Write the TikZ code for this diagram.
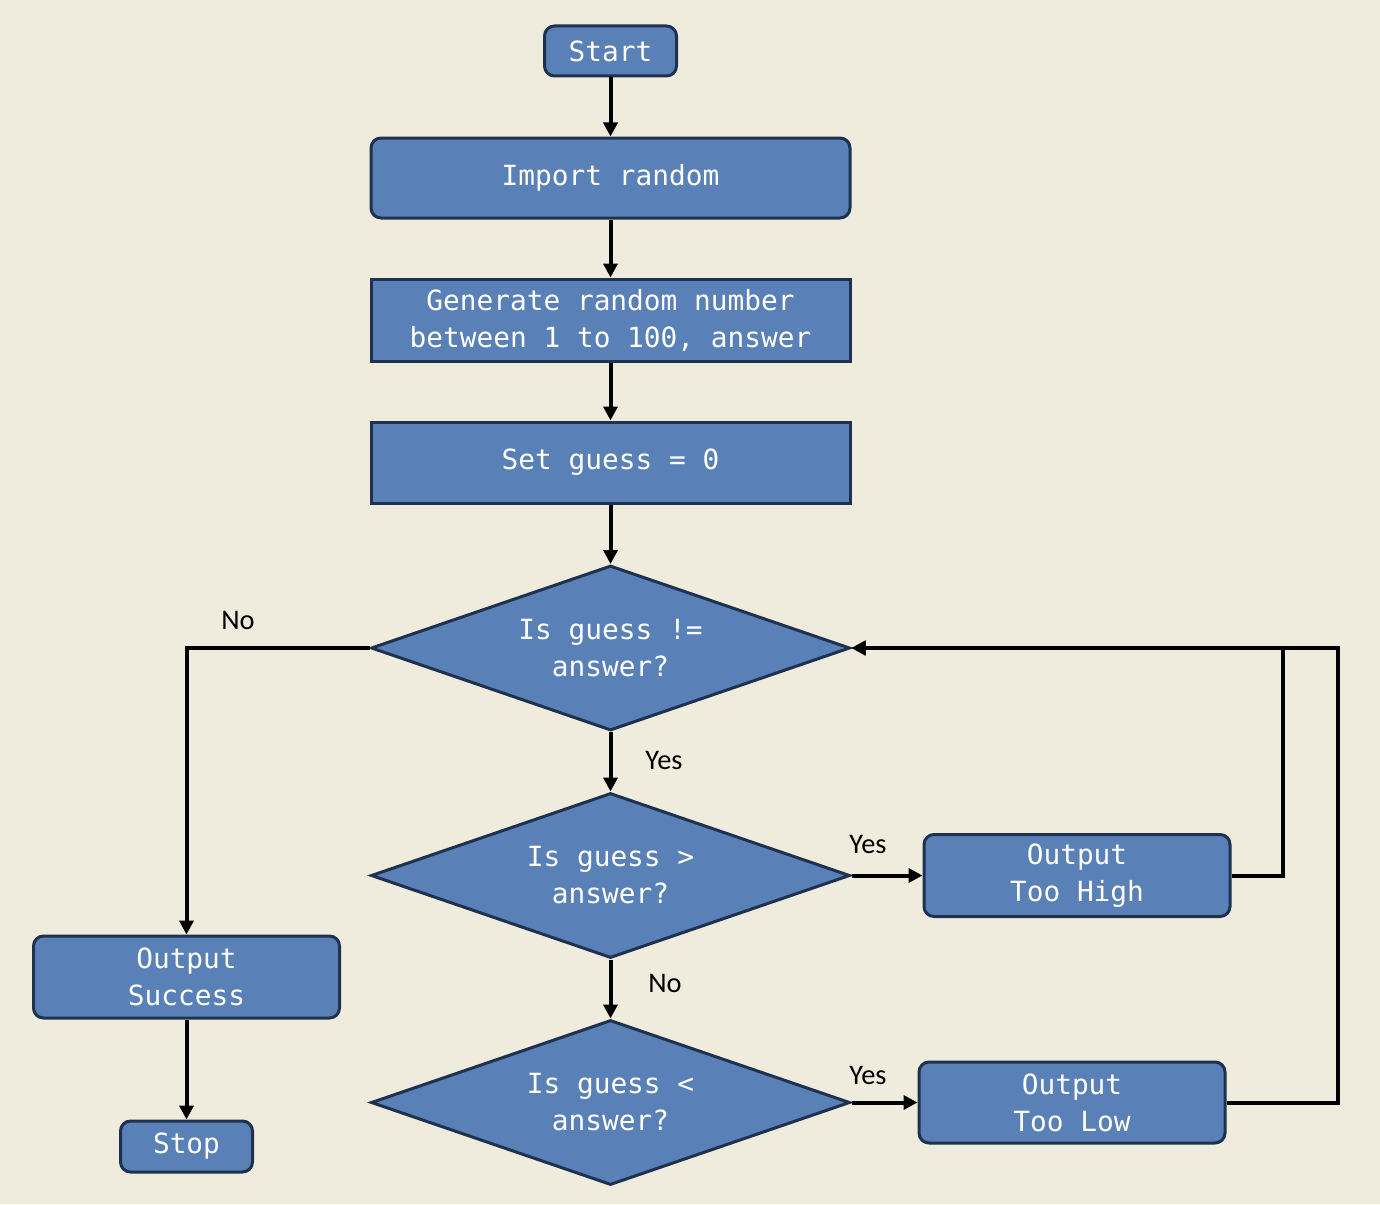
\documentclass[tikz,border=0pt]{standalone}
\usepackage{fontspec}
\newfontfamily\codefont{DejaVu Sans Mono}
\newfontfamily\lblfont{Carlito}
\usetikzlibrary{shapes.geometric,arrows.meta}
\definecolor{bg}{RGB}{240,236,221}
\definecolor{boxfill}{RGB}{89,128,183}
\definecolor{boxline}{RGB}{30,50,80}
\begin{document}
\begin{tikzpicture}[x=0.5pt,y=-0.5pt,
 base/.style={fill=boxfill,draw=boxline,line width=1.5pt,text=white,font=\codefont\fontsize{13.9}{18.5}\selectfont,align=center,inner sep=0pt},
 rbox/.style={base,rectangle,rounded corners=5pt},
 sbox/.style={base,rectangle},
 dec/.style={base,diamond,aspect=2.9,minimum width=239.5pt,minimum height=82.5pt},
 conn/.style={line width=2pt,-{Triangle[length=7pt,width=7pt]}},
 lbl/.style={font=\lblfont\fontsize{14.2}{16}\selectfont,inner sep=0pt}]
\fill[bg] (0,0) rectangle (1380,1204);
\useasboundingbox (0,0) rectangle (1380,1204);

\node[rbox,minimum width=66pt,minimum height=25pt] (start) at (610.5,51) {Start};
\node[rbox,minimum width=239.5pt,minimum height=40pt] (imp) at (610.5,178) {Import random};
\node[sbox,minimum width=239.5pt,minimum height=41pt] (gen) at (610.5,320) {Generate random number\\between 1 to 100, answer};
\node[sbox,minimum width=239.5pt,minimum height=40.5pt] (set) at (610.5,462.5) {Set guess = 0};
\node[dec] (d1) at (610.5,648) {Is guess !=\\answer?};
\node[dec] (d2) at (610.5,875.5) {Is guess >\\answer?};
\node[dec] (d3) at (610.5,1102.5) {Is guess <\\answer?};
\node[rbox,minimum width=153pt,minimum height=41pt] (high) at (1077,875.5) {Output\\Too High};
\node[rbox,minimum width=153pt,minimum height=40.5pt] (low) at (1072,1102.5) {Output\\Too Low};
\node[rbox,minimum width=153pt,minimum height=41pt] (succ) at (186.5,977) {Output\\Success};
\node[rbox,minimum width=66pt,minimum height=25.5pt] (stop) at (186.5,1146.5) {Stop};

\coordinate (jh) at (1283,875.5);
\coordinate (jl) at (1338,1102.5);

\draw[conn] (start) -- (imp);
\draw[conn] (imp) -- (gen);
\draw[conn] (gen) -- (set);
\draw[conn] (set) -- (d1);
\draw[conn] (d1.west) -| (succ.north);
\draw[conn] (d1) -- (d2);
\draw[conn] (d2) -- (d3);
\draw[conn] (d2.east) -- (high.west);
\draw[conn] (d3.east) -- (low.west);
\draw[conn] (high.east) -- (jh) |- (d1.east);
\draw[conn] (low.east) -- (jl) |- (d1.east);
\draw[conn] (succ) -- (stop);

\node[lbl] (lno1) at (238,620) {No};
\node[lbl] (lyes1) at (664,760) {Yes};
\node[lbl] (lno2) at (665,983) {No};
\node[lbl] (lyes2) at (868,844) {Yes};
\node[lbl] (lyes3) at (868,1075) {Yes};
\end{tikzpicture}
\end{document}
